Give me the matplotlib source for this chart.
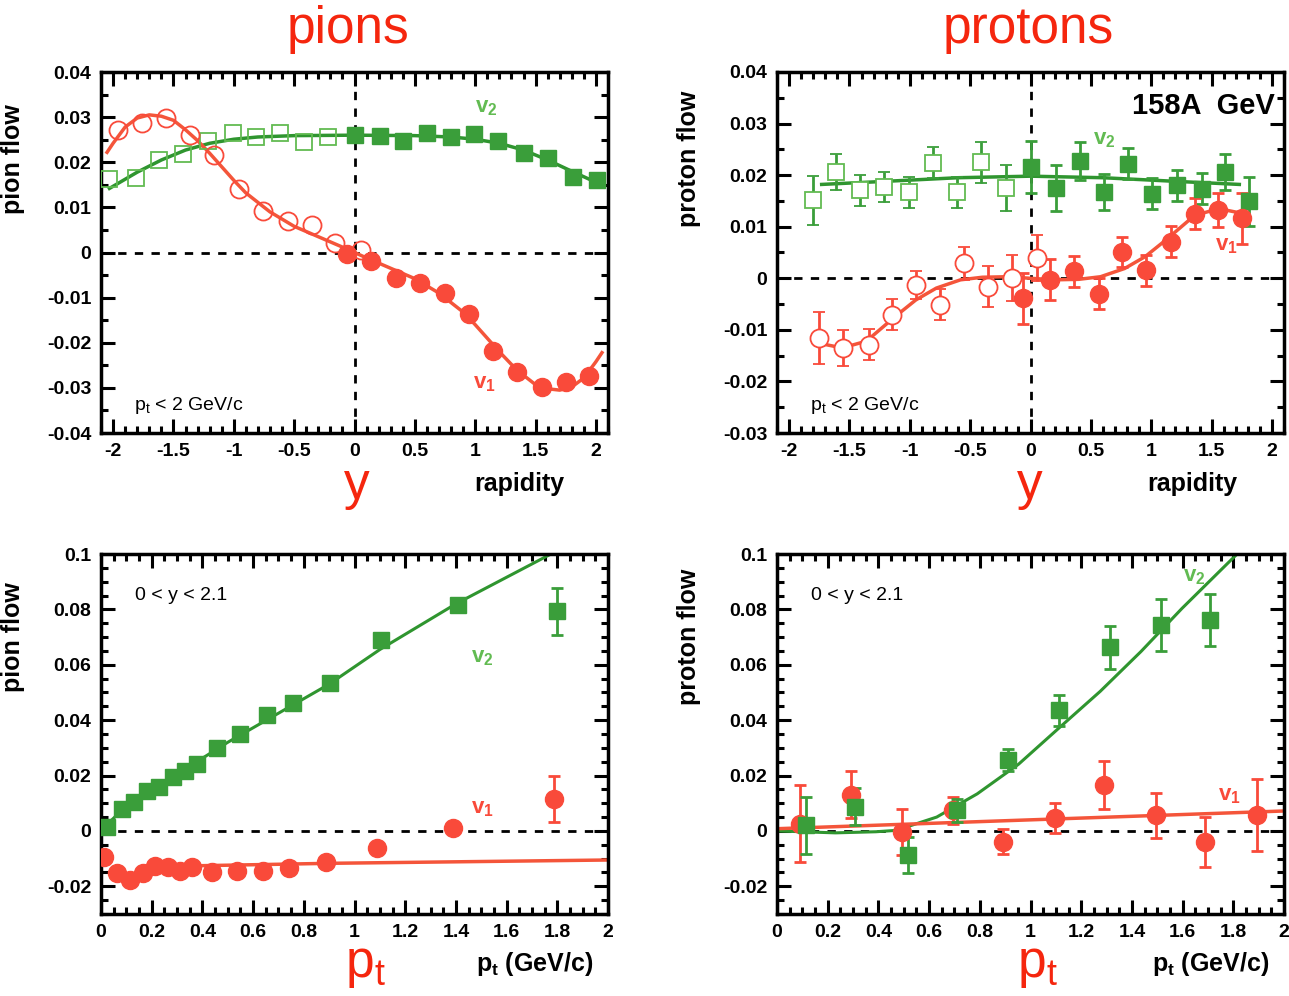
import matplotlib

matplotlib.use("Agg")
import matplotlib.pyplot as plt
from matplotlib.ticker import MultipleLocator

plt.rcParams["font.family"] = ["Liberation Sans", "DejaVu Sans"]
plt.rcParams["mathtext.default"] = "regular"

RED = "#f94a3a"
RED_LINE = "#f4553a"
GREEN = "#3a9e3a"
GREEN_OPEN = "#62bb52"
GREEN_LINE = "#2f952f"
TITLE_RED = "#f5260e"

# ---- pions vs rapidity ----
pi_v2_open_y = [-2.03, -1.81, -1.62, -1.42, -1.21, -1.01, -0.82, -0.62, -0.42, -0.22]
pi_v2_open = [0.0163, 0.0165, 0.0205, 0.0219, 0.0247, 0.0264, 0.0255, 0.0264, 0.0245, 0.0255]
pi_v2_y = [0.0, 0.21, 0.40, 0.60, 0.80, 0.99, 1.19, 1.40, 1.60, 1.81, 2.01]
pi_v2 = [0.0261, 0.0259, 0.0246, 0.0264, 0.0257, 0.0263, 0.0247, 0.0220, 0.0209, 0.0168, 0.0161]
pi_v1_open_y = [-1.96, -1.76, -1.56, -1.36, -1.16, -0.96, -0.76, -0.55, -0.35, -0.16, 0.05]
pi_v1_open = [0.0272, 0.0287, 0.0299, 0.0261, 0.0216, 0.0141, 0.0091, 0.0070, 0.0061, 0.0021, 0.0006]
pi_v1_y = [-0.06, 0.14, 0.34, 0.54, 0.75, 0.95, 1.15, 1.35, 1.55, 1.75, 1.94]
pi_v1 = [-0.0004, -0.0018, -0.0057, -0.0068, -0.0090, -0.0137, -0.0219, -0.0264, -0.0297, -0.0286, -0.0273]

pi_v1_fit_y = [-2.05, -2.0, -1.9, -1.8, -1.7, -1.6, -1.5, -1.4, -1.3, -1.2, -1.1, -1.0, -0.9,
               -0.7, -0.5, -0.3, -0.1, 0.0, 0.1, 0.3, 0.5, 0.7, 0.9, 1.0, 1.1, 1.2, 1.3,
               1.4, 1.5, 1.6, 1.7, 1.8, 1.9, 2.0, 2.05]
pi_v1_fit = [0.0222, 0.0242, 0.0278, 0.0298, 0.0305, 0.0302, 0.0293, 0.0272, 0.0248, 0.0220,
             0.0190, 0.0160, 0.0132, 0.0090, 0.0058, 0.0035, 0.0012, 0.0, -0.0012, -0.0035,
             -0.0058, -0.0090, -0.0132, -0.0160, -0.0190, -0.0220, -0.0248, -0.0272, -0.0293,
             -0.0302, -0.0305, -0.0298, -0.0278, -0.0242, -0.0222]
pi_v2_fit_y = [-2.03, -1.8, -1.6, -1.4, -1.2, -1.0, -0.8, -0.5, 0.0, 0.5, 0.8, 1.0, 1.2, 1.4,
               1.6, 1.8, 2.03]
pi_v2_fit = [0.0142, 0.0178, 0.0205, 0.0227, 0.0242, 0.0251, 0.0256, 0.0259, 0.0260, 0.0259,
             0.0256, 0.0251, 0.0242, 0.0227, 0.0205, 0.0180, 0.0152]

# ---- protons vs rapidity ----
pr_v2_open_y = [-1.80, -1.61, -1.41, -1.21, -1.01, -0.81, -0.61, -0.41, -0.20]
pr_v2_open = [0.0151, 0.0206, 0.0171, 0.0177, 0.0167, 0.0224, 0.0167, 0.0225, 0.0175]
pr_v2_open_err = [0.0048, 0.0035, 0.0030, 0.0030, 0.0030, 0.0030, 0.0030, 0.0040, 0.0045]
pr_v2_y = [0.0, 0.21, 0.41, 0.61, 0.81, 1.01, 1.21, 1.42, 1.61, 1.81]
pr_v2 = [0.0216, 0.0175, 0.0227, 0.0167, 0.0222, 0.0164, 0.0180, 0.0174, 0.0206, 0.0149]
pr_v2_err = [0.0050, 0.0045, 0.0037, 0.0035, 0.0030, 0.0030, 0.0030, 0.0030, 0.0035, 0.0048]
pr_v1_open_y = [-1.75, -1.55, -1.34, -1.15, -0.95, -0.75, -0.55, -0.35, -0.15, 0.05]
pr_v1_open = [-0.0116, -0.0135, -0.0129, -0.0071, -0.0013, -0.0051, 0.0029, -0.0016, 0.0001, 0.0039]
pr_v1_open_err = [0.0050, 0.0035, 0.0030, 0.0030, 0.0028, 0.0030, 0.0032, 0.0040, 0.0045, 0.0045]
pr_v1_y = [-0.06, 0.16, 0.36, 0.57, 0.76, 0.96, 1.16, 1.36, 1.55, 1.75]
pr_v1 = [-0.0039, -0.0003, 0.0014, -0.0030, 0.0051, 0.0016, 0.0071, 0.0125, 0.0132, 0.0116]
pr_v1_err = [0.0050, 0.0040, 0.0030, 0.0030, 0.0030, 0.0030, 0.0030, 0.0030, 0.0033, 0.0050]

pr_v2_fit_y = [-1.73, -1.2, -0.6, 0.0, 0.6, 1.2, 1.73]
pr_v2_fit = [0.0182, 0.0188, 0.0195, 0.0198, 0.0195, 0.0188, 0.0182]
pr_v1_fit_y = [-1.73, -1.56, -1.36, -1.12, -0.95, -0.78, -0.58, -0.4, -0.2, 0.0, 0.2, 0.4,
               0.58, 0.78, 0.95, 1.12, 1.36, 1.56, 1.73]
pr_v1_fit = [-0.0127, -0.0135, -0.0122, -0.0074, -0.0042, -0.0019, -0.0003, 0.0002, 0.0003,
             0.0, -0.0003, -0.0002, 0.0003, 0.0019, 0.0042, 0.0074, 0.0122, 0.0135, 0.0127]

# ---- pions vs pt ----
pi_pt_v2_x = [0.023, 0.084, 0.13, 0.18, 0.23, 0.285, 0.33, 0.38, 0.457, 0.55, 0.655, 0.757,
              0.905, 1.106, 1.407, 1.80]
pi_pt_v2 = [0.0014, 0.0080, 0.0104, 0.0143, 0.0158, 0.0194, 0.0217, 0.0241, 0.0299, 0.0349,
            0.0418, 0.0462, 0.0534, 0.0689, 0.0815, 0.0793]
pi_pt_v2_err = [0, 0, 0, 0, 0, 0, 0, 0, 0, 0, 0, 0, 0, 0, 0, 0.0085]
pi_pt_v1_x = [0.011, 0.063, 0.113, 0.164, 0.213, 0.264, 0.312, 0.36, 0.438, 0.538, 0.639,
              0.741, 0.889, 1.09, 1.388, 1.787]
pi_pt_v1 = [-0.0093, -0.0153, -0.0177, -0.0153, -0.0127, -0.0129, -0.0145, -0.0129, -0.0147,
            -0.0145, -0.0143, -0.0135, -0.0111, -0.0060, 0.0012, 0.0115]
pi_pt_v1_err = [0, 0, 0, 0, 0, 0, 0, 0, 0, 0, 0, 0, 0, 0, 0, 0.0083]
pi_pt_v2_fit_x = [0.02, 0.1, 0.3, 0.5, 0.9, 1.1, 1.4, 1.775]
pi_pt_v2_fit = [0.002, 0.009, 0.0205, 0.032, 0.053, 0.0655, 0.082, 0.1]
pi_pt_v1_fit_x = [0.25, 0.9, 2.0]
pi_pt_v1_fit = [-0.0128, -0.0117, -0.0105]

# ---- protons vs pt ----
pr_pt_v2_x = [0.113, 0.309, 0.515, 0.712, 0.913, 1.111, 1.312, 1.514, 1.71]
pr_pt_v2 = [0.0020, 0.0088, -0.0087, 0.0074, 0.0256, 0.0435, 0.0663, 0.0743, 0.0761]
pr_pt_v2_err = [0.0102, 0.0066, 0.0066, 0.0040, 0.0040, 0.0055, 0.0078, 0.0093, 0.0094]
pr_pt_v1_x = [0.092, 0.29, 0.494, 0.696, 0.89, 1.095, 1.29, 1.496, 1.69, 1.895]
pr_pt_v1 = [0.0026, 0.0131, -0.0004, 0.0074, -0.0039, 0.0047, 0.0166, 0.0056, -0.0039, 0.0056]
pr_pt_v1_err = [0.0140, 0.0085, 0.0084, 0.0050, 0.0045, 0.0055, 0.0087, 0.0080, 0.0090, 0.0130]
pr_pt_v2_fit_x = [0.0, 0.23, 0.39, 0.47, 0.63, 0.79, 0.953, 1.114, 1.275, 1.436, 1.597, 1.815]
pr_pt_v2_fit = [0.0, -0.0007, -0.0003, 0.0002, 0.005, 0.0134, 0.0241, 0.0373, 0.0504, 0.0648,
                0.0803, 0.1]
pr_pt_v1_fit_x = [0.0, 2.0]
pr_pt_v1_fit = [0.0008, 0.0072]

W, H = 1289, 996


def px_axes(fig, x0, x1, y0, y1):
    return fig.add_axes([x0 / W, 1 - y1 / H, (x1 - x0) / W, (y1 - y0) / H])


def style(ax, xmaj, xmin, ymaj, ymin):
    ax.xaxis.set_major_locator(MultipleLocator(xmaj))
    ax.xaxis.set_minor_locator(MultipleLocator(xmin))
    ax.yaxis.set_major_locator(MultipleLocator(ymaj))
    ax.yaxis.set_minor_locator(MultipleLocator(ymin))
    ax.tick_params(which="both", direction="in", top=True, right=True, width=2.2,
                   labelsize=14, pad=7)
    ax.tick_params(which="major", length=10)
    ax.tick_params(which="minor", length=5)
    for lab in ax.get_xticklabels() + ax.get_yticklabels():
        lab.set_fontweight("bold")
    for s in ax.spines.values():
        s.set_linewidth(2.5)


def fmt(v, pos):
    if abs(v) < 1e-9:
        return "0"
    return f"{v:g}"


def zero_lines(ax, vertical=True):
    ax.axhline(0, color="black", ls=(0, (3, 3)), lw=2, zorder=1)
    if vertical:
        ax.axvline(0, color="black", ls=(0, (3, 3)), lw=2, zorder=1)


def labels(ax, ylab, xlab, ly, lx):
    ax.xaxis.set_major_formatter(fmt)
    ax.yaxis.set_major_formatter(fmt)
    ax.set_ylabel(ylab, fontsize=18, fontweight="bold")
    ax.yaxis.set_label_coords(-0.15, ly)
    ax.text(lx, -0.14, xlab, transform=ax.transAxes, ha="center", va="center",
            fontsize=18, fontweight="bold")


fig = plt.figure(figsize=(W / 100, H / 100), dpi=100)

ms_c = 13
ms_s = 12
note = dict(fontsize=14)
vlab = dict(fontsize=16, fontweight="bold")

# ---------- top left ----------
ax = px_axes(fig, 101, 608, 72, 433)
ax.set_xlim(-2.1, 2.1)
ax.set_ylim(-0.04, 0.04)
zero_lines(ax)
ax.plot(pi_v2_fit_y, pi_v2_fit, color=GREEN_LINE, lw=2.5, zorder=2)
ax.plot(pi_v1_fit_y, pi_v1_fit, color=RED_LINE, lw=2.5, zorder=2)
ax.plot(pi_v2_open_y, pi_v2_open, "s", ms=ms_s, mfc="none", mec=GREEN_OPEN, mew=1.3, zorder=3)
ax.plot(pi_v2_y, pi_v2, "s", ms=ms_s, color=GREEN, zorder=3)
ax.plot(pi_v1_open_y, pi_v1_open, "o", ms=ms_c, mfc="none", mec=RED, mew=1.3, zorder=3)
ax.plot(pi_v1_y, pi_v1, "o", ms=ms_c, color=RED, zorder=3)
ax.text(1.0, 0.031, "v$_2$", color=GREEN_OPEN, **vlab)
ax.text(0.98, -0.0302, "v$_1$", color=RED, **vlab)
ax.text(-1.83, -0.035, "p$_t$ < 2 GeV/c", **note)
style(ax, 0.5, 0.1, 0.01, 0.005)
labels(ax, "pion flow", "rapidity", 0.76, 0.826)

# ---------- top right ----------
ax = px_axes(fig, 777, 1284, 72, 433)
ax.set_xlim(-2.1, 2.1)
ax.set_ylim(-0.03, 0.04)
zero_lines(ax)
ax.plot(pr_v2_fit_y, pr_v2_fit, color=GREEN_LINE, lw=2.5, zorder=2)
ax.plot(pr_v1_fit_y, pr_v1_fit, color=RED_LINE, lw=2.5, zorder=2)
eb = dict(capsize=4, elinewidth=2, capthick=2, zorder=3, ls="none")
ax.errorbar(pr_v2_open_y, pr_v2_open, yerr=pr_v2_open_err, fmt="s", ms=ms_s, mfc="white",
            mec=GREEN_OPEN, mew=1.3, ecolor=GREEN, **eb)
ax.errorbar(pr_v2_y, pr_v2, yerr=pr_v2_err, fmt="s", ms=ms_s, color=GREEN, ecolor=GREEN, **eb)
ax.errorbar(pr_v1_open_y, pr_v1_open, yerr=pr_v1_open_err, fmt="o", ms=ms_c, mfc="white",
            mec=RED, mew=1.3, ecolor=RED, **eb)
ax.errorbar(pr_v1_y, pr_v1, yerr=pr_v1_err, fmt="o", ms=ms_c, color=RED, ecolor=RED, **eb)
ax.text(0.52, 0.026, "v$_2$", color=GREEN_OPEN, **vlab)
ax.text(1.53, 0.0055, "v$_1$", color=RED, **vlab)
ax.text(-1.83, -0.0255, "p$_t$ < 2 GeV/c", **note)
ax.text(2.02, 0.0335, "158A  GeV", fontsize=21, fontweight="bold", ha="right", va="center")
style(ax, 0.5, 0.1, 0.01, 0.005)
labels(ax, "proton flow", "rapidity", 0.76, 0.82)

# ---------- bottom left ----------
ax = px_axes(fig, 101, 608, 554, 914)
ax.set_xlim(0, 2)
ax.set_ylim(-0.03, 0.1)
zero_lines(ax, vertical=False)
ax.plot(pi_pt_v2_fit_x, pi_pt_v2_fit, color=GREEN_LINE, lw=2.2, zorder=2)
ax.plot(pi_pt_v1_fit_x, pi_pt_v1_fit, color=RED_LINE, lw=2.5, zorder=2)
ax.errorbar(pi_pt_v2_x, pi_pt_v2, yerr=pi_pt_v2_err, fmt="s", ms=ms_s, color=GREEN,
            ecolor=GREEN, **eb)
ax.errorbar(pi_pt_v1_x, pi_pt_v1, yerr=pi_pt_v1_err, fmt="o", ms=ms_c, color=RED,
            ecolor=RED, **eb)
ax.text(1.46, 0.061, "v$_2$", color=GREEN_OPEN, **vlab)
ax.text(1.46, 0.0065, "v$_1$", color=RED, **vlab)
ax.text(0.135, 0.0835, "0 < y < 2.1", **note)
style(ax, 0.2, 0.05, 0.02, 0.005)
labels(ax, "pion flow", "p$_t$ (GeV/c)", 0.77, 0.856)

# ---------- bottom right ----------
ax = px_axes(fig, 777, 1284, 554, 914)
ax.set_xlim(0, 2)
ax.set_ylim(-0.03, 0.1)
zero_lines(ax, vertical=False)
ax.plot(pr_pt_v2_fit_x, pr_pt_v2_fit, color=GREEN_LINE, lw=2.2, zorder=2)
ax.plot(pr_pt_v1_fit_x, pr_pt_v1_fit, color=RED_LINE, lw=2.5, zorder=2)
ax.errorbar(pr_pt_v1_x, pr_pt_v1, yerr=pr_pt_v1_err, fmt="o", ms=ms_c, color=RED,
            ecolor=RED, **eb)
ax.errorbar(pr_pt_v2_x, pr_pt_v2, yerr=pr_pt_v2_err, fmt="s", ms=ms_s, color=GREEN,
            ecolor=GREEN, **eb)
ax.text(1.6, 0.09, "v$_2$", color=GREEN_OPEN, zorder=1, **vlab)
ax.text(1.74, 0.011, "v$_1$", color=RED, **vlab)
ax.text(0.135, 0.0835, "0 < y < 2.1", **note)
style(ax, 0.2, 0.05, 0.02, 0.005)
labels(ax, "proton flow", "p$_t$ (GeV/c)", 0.77, 0.856)

# ---------- big red labels ----------
big = dict(color=TITLE_RED, fontsize=37, ha="center", va="center")
fig.text(348 / W, 1 - 30 / H, "pions", **big)
fig.text(1028 / W, 1 - 30 / H, "protons", **big)
fig.text(357 / W, 1 - 485 / H, "y", **big)
fig.text(1030 / W, 1 - 485 / H, "y", **big)
fig.text(365 / W, 1 - 965 / H, "p$_t$", **big)
fig.text(1037 / W, 1 - 965 / H, "p$_t$", **big)

fig.savefig("out.png", dpi=100)
